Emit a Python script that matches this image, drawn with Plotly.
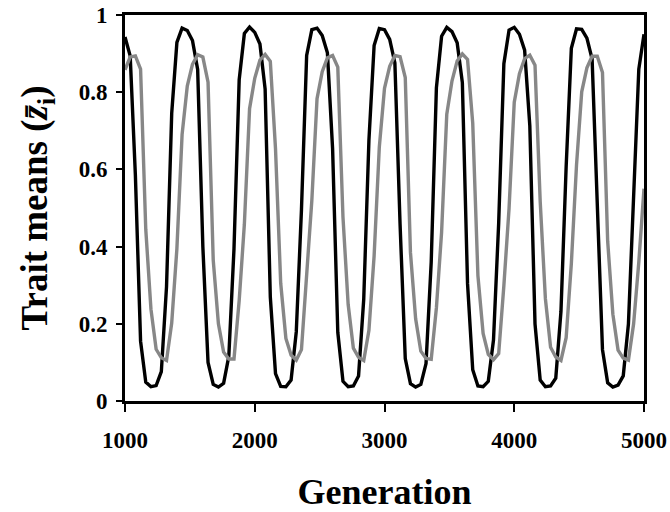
import plotly.graph_objects as go

generation = [
    1000, 1040, 1080, 1120, 1160, 1200, 1240, 1280, 1320, 1360,
    1400, 1440, 1480, 1520, 1560, 1600, 1640, 1680, 1720, 1760,
    1800, 1840, 1880, 1920, 1960, 2000, 2040, 2080, 2120, 2160,
    2200, 2240, 2280, 2320, 2360, 2400, 2440, 2480, 2520, 2560,
    2600, 2640, 2680, 2720, 2760, 2800, 2840, 2880, 2920, 2960,
    3000, 3040, 3080, 3120, 3160, 3200, 3240, 3280, 3320, 3360,
    3400, 3440, 3480, 3520, 3560, 3600, 3640, 3680, 3720, 3760,
    3800, 3840, 3880, 3920, 3960, 4000, 4040, 4080, 4120, 4160,
    4200, 4240, 4280, 4320, 4360, 4400, 4440, 4480, 4520, 4560,
    4600, 4640, 4680, 4720, 4760, 4800, 4840, 4880, 4920, 4960,
    5000,
]

trait_black = [
    0.943, 0.894, 0.585, 0.155, 0.049, 0.037, 0.040, 0.076, 0.296, 0.745,
    0.929, 0.966, 0.960, 0.934, 0.859, 0.400, 0.100, 0.043, 0.036, 0.046,
    0.116, 0.394, 0.832, 0.952, 0.969, 0.955, 0.925, 0.808, 0.269, 0.071,
    0.038, 0.037, 0.054, 0.179, 0.495, 0.895, 0.962, 0.966, 0.947, 0.902,
    0.653, 0.178, 0.051, 0.037, 0.039, 0.065, 0.264, 0.676, 0.921, 0.965,
    0.962, 0.937, 0.876, 0.458, 0.110, 0.045, 0.036, 0.043, 0.097, 0.360,
    0.811, 0.945, 0.968, 0.957, 0.928, 0.825, 0.304, 0.081, 0.039, 0.037,
    0.051, 0.158, 0.461, 0.874, 0.961, 0.968, 0.950, 0.909, 0.713, 0.200,
    0.054, 0.037, 0.039, 0.059, 0.232, 0.607, 0.914, 0.964, 0.963, 0.940,
    0.886, 0.517, 0.133, 0.047, 0.036, 0.041, 0.065, 0.200, 0.550, 0.860,
    0.950,
]

trait_gray = [
    0.858, 0.891, 0.894, 0.860, 0.445, 0.238, 0.134, 0.112, 0.105, 0.202,
    0.395, 0.690, 0.816, 0.872, 0.897, 0.891, 0.826, 0.365, 0.200, 0.127,
    0.109, 0.109, 0.260, 0.458, 0.757, 0.836, 0.883, 0.898, 0.880, 0.653,
    0.305, 0.162, 0.119, 0.106, 0.133, 0.318, 0.520, 0.783, 0.853, 0.889,
    0.895, 0.865, 0.476, 0.250, 0.137, 0.113, 0.105, 0.183, 0.376, 0.658,
    0.810, 0.867, 0.895, 0.892, 0.838, 0.385, 0.213, 0.129, 0.110, 0.108,
    0.241, 0.437, 0.743, 0.829, 0.881, 0.899, 0.885, 0.720, 0.325, 0.175,
    0.121, 0.107, 0.123, 0.299, 0.499, 0.774, 0.848, 0.887, 0.896, 0.870,
    0.517, 0.265, 0.139, 0.114, 0.105, 0.164, 0.356, 0.612, 0.801, 0.863,
    0.893, 0.893, 0.851, 0.414, 0.225, 0.132, 0.111, 0.106, 0.200, 0.360,
    0.550,
]

x_ticks = [1000, 2000, 3000, 4000, 5000]
x_tick_labels = ["1000", "2000", "3000", "4000", "5000"]
y_ticks = [0, 0.2, 0.4, 0.6, 0.8, 1]
y_tick_labels = ["0", "0.2", "0.4", "0.6", "0.8", "1"]

FONT = "Liberation Serif"

fig = go.Figure()
fig.add_trace(go.Scatter(x=generation, y=trait_black, mode="lines",
                         line=dict(color="#000000", width=3.4), showlegend=False))
fig.add_trace(go.Scatter(x=generation, y=trait_gray, mode="lines",
                         line=dict(color="#878787", width=3.4), showlegend=False))

fig.update_layout(
    width=670, height=512,
    margin=dict(l=125, r=26, t=15, b=111),
    paper_bgcolor="white", plot_bgcolor="white",
    font=dict(family=FONT, color="black", size=22, weight="bold"),
    showlegend=False,
)
fig.update_xaxes(
    range=[1000, 5000], tickvals=x_ticks, ticktext=x_tick_labels,
    showline=True, linecolor="black", linewidth=3, mirror=True,
    ticks="outside", ticklen=8, tickwidth=2, tickcolor="black",
    ticklabelstandoff=8, automargin=False,
    showgrid=False, zeroline=False,
    tickfont=dict(family=FONT, size=23, weight="bold"),
    title=dict(text="Generation", font=dict(family=FONT, size=36, weight="bold"), standoff=32),
)
fig.update_yaxes(
    range=[0, 1], tickvals=y_ticks, ticktext=y_tick_labels,
    showline=True, linecolor="black", linewidth=3, mirror=True,
    ticks="outside", ticklen=6, tickwidth=2, tickcolor="black",
    ticklabelstandoff=4, automargin=False,
    showgrid=False, zeroline=False,
    tickfont=dict(family=FONT, size=23, weight="bold"),
    title=dict(text="Trait means (<i>z\u0304</i><sub>i</sub>)",
               font=dict(family=FONT, size=37, weight="bold"), standoff=20),
)

fig.write_html("out.html")
